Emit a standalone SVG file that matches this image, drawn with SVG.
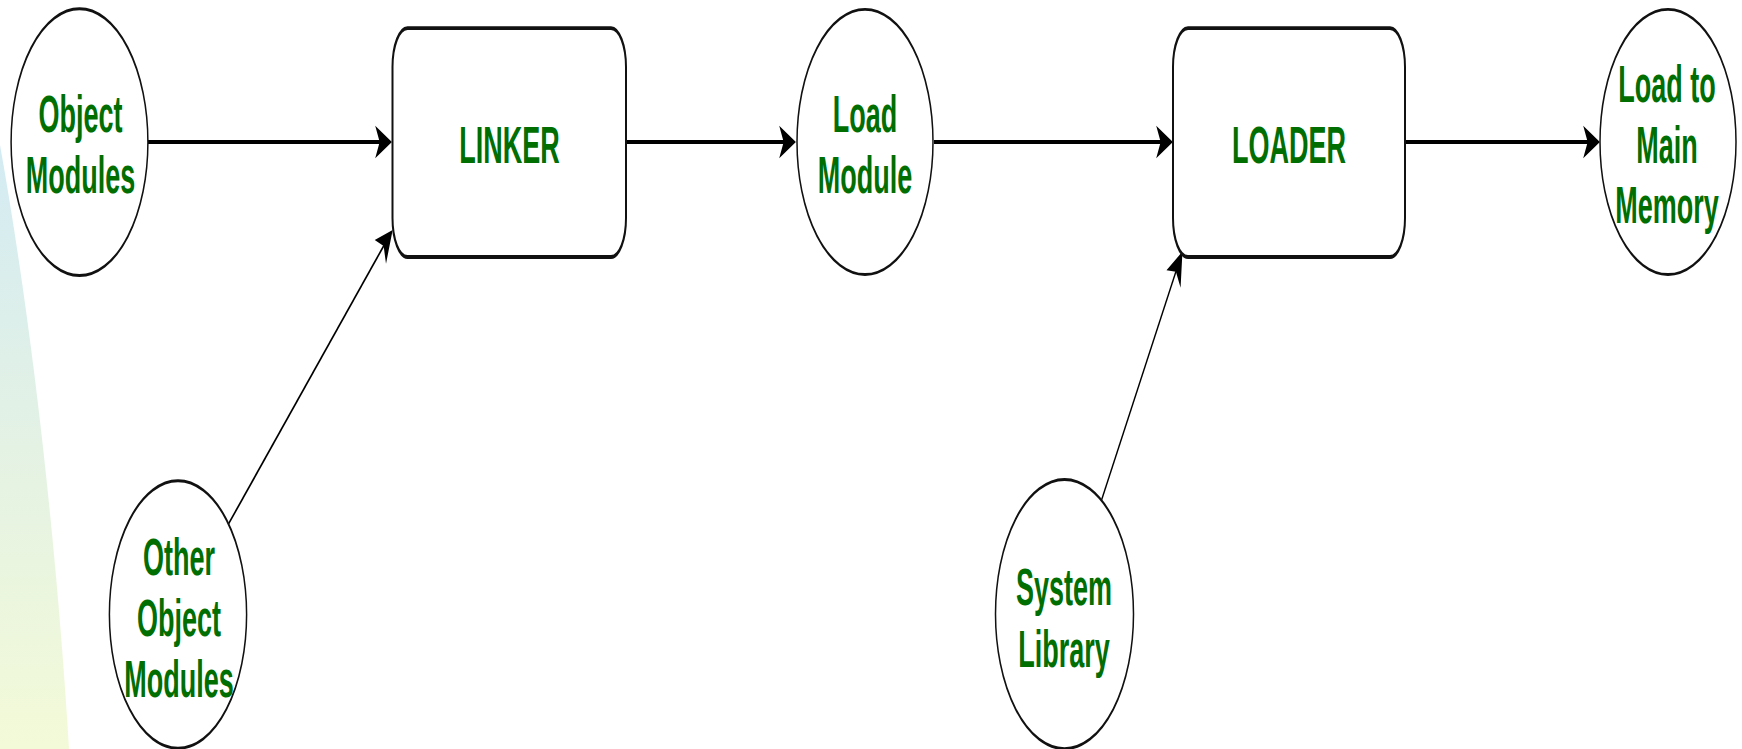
<svg xmlns="http://www.w3.org/2000/svg" width="1742" height="749" viewBox="0 0 1742 749">
  <style>
    .circle { fill: #ffffff; stroke: #111111; stroke-width: 1.5; }
    .box { fill: #ffffff; stroke: #111111; stroke-width: 2; }
    .label { font-family: "Liberation Sans", Arial, Helvetica, sans-serif; font-weight: bold; font-size: 27px; fill: #006e00; text-anchor: middle; }
    .flow { fill: none; stroke: #000000; stroke-width: 2; }
    .feed { fill: none; stroke: #000000; stroke-width: 1.3; }
  </style>
  <defs>
    <linearGradient id="sliverFill" x1="0" y1="145" x2="0" y2="749" gradientUnits="userSpaceOnUse">
      <stop offset="0" stop-color="#d3ebf3"/>
      <stop offset="0.5" stop-color="#e4f2e4"/>
      <stop offset="1" stop-color="#f3fad8"/>
    </linearGradient>
    <marker id="head" markerUnits="userSpaceOnUse" markerWidth="20" markerHeight="20" refX="0" refY="0" viewBox="-8 -9 17 18" orient="auto" overflow="visible">
      <path d="M8,0 L-7,-7.5 L-3,0 L-7,7.5 Z" fill="#000000"/>
    </marker>
  </defs>

  <rect x="0" y="0" width="1742" height="749" fill="#ffffff"/>
  <!-- decorative sliver along the left edge -->
  <path d="M0,145 C33,330 57,550 69,749 L0,749 Z" fill="url(#sliverFill)"/>

  <!-- the whole drawing is laid out in a squashed space and stretched vertically -->
  <g transform="scale(1,1.95)">
    <g id="connectors">
      <line class="flow" x1="148" y1="72.8" x2="383" y2="72.8" marker-end="url(#head)"/>
      <line class="flow" x1="626" y1="72.8" x2="787" y2="72.8" marker-end="url(#head)"/>
      <line class="flow" x1="934" y1="72.8" x2="1164" y2="72.8" marker-end="url(#head)"/>
      <line class="flow" x1="1405" y1="72.8" x2="1591" y2="72.8" marker-end="url(#head)"/>
      <line class="feed" x1="228.4" y1="268.8" x2="386.1" y2="123.9" marker-end="url(#head)"/>
      <line class="feed" x1="1101.2" y1="257" x2="1177.7" y2="136.5" marker-end="url(#head)"/>
    </g>

    <g id="object-modules">
      <circle class="circle" cx="79.5" cy="72.9" r="68.4"/>
      <text class="label" x="80.5" y="67.7">Object</text>
      <text class="label" x="80.5" y="99">Modules</text>
    </g>

    <g id="linker">
      <rect class="box" x="392.5" y="14.4" width="233.5" height="117.4" rx="15" ry="20"/>
      <text class="label" x="509.5" y="83.5">LINKER</text>
    </g>

    <g id="load-module">
      <circle class="circle" cx="865" cy="72.8" r="68"/>
      <text class="label" x="865" y="67.7">Load</text>
      <text class="label" x="865" y="99">Module</text>
    </g>

    <g id="loader">
      <rect class="box" x="1173" y="14.4" width="232" height="117.4" rx="15" ry="20"/>
      <text class="label" x="1289" y="83.5">LOADER</text>
    </g>

    <g id="load-to-main-memory">
      <circle class="circle" cx="1668" cy="72.8" r="68"/>
      <text class="label" x="1667" y="52.3">Load to</text>
      <text class="label" x="1667" y="83.6">Main</text>
      <text class="label" x="1667" y="114.4">Memory</text>
    </g>

    <g id="other-object-modules">
      <circle class="circle" cx="178" cy="315.1" r="68.6"/>
      <text class="label" x="179" y="294.9">Other</text>
      <text class="label" x="179" y="326.4">Object</text>
      <text class="label" x="179" y="357.4">Modules</text>
    </g>

    <g id="system-library">
      <circle class="circle" cx="1064.5" cy="314.9" r="69"/>
      <text class="label" x="1064" y="310.3">System</text>
      <text class="label" x="1064" y="342">Library</text>
    </g>
  </g>
</svg>
